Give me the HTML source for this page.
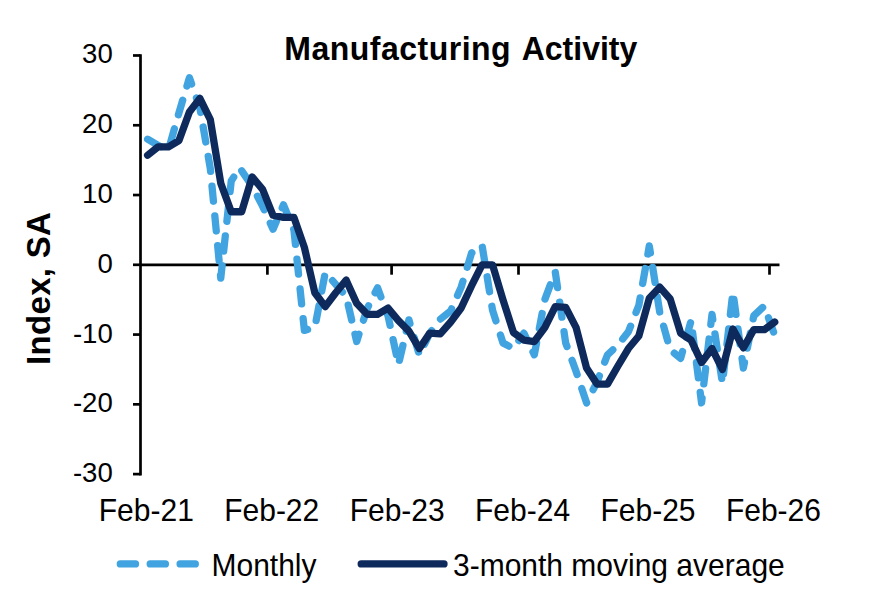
<!DOCTYPE html>
<html><head><meta charset="utf-8"><style>
html,body{margin:0;padding:0;background:#fff;width:874px;height:603px;overflow:hidden}
svg{display:block}
text{font-family:"Liberation Sans",sans-serif;fill:#000}
.title{font-weight:bold;font-size:32px}
.ytitle{font-weight:bold;font-size:33px}
.yl{font-size:27.6px}
.xl{font-size:30px}
</style></head><body>
<svg width="874" height="603" viewBox="0 0 874 603">
<rect width="874" height="603" fill="#fff"/>
<text transform="translate(284.3,59.9) scale(1,1.03)" class="title" letter-spacing="0.5">Manufacturing</text>
<text transform="translate(521.7,59.9) scale(1,1.03)" class="title">Activity</text>
<text transform="translate(50.4,364.9) rotate(-90)" class="ytitle" letter-spacing="0.3">Index, SA</text>
<line x1="133" y1="474.11" x2="140.50" y2="474.11" stroke="#000" stroke-width="2.70"/>
<line x1="133" y1="404.34" x2="140.50" y2="404.34" stroke="#000" stroke-width="2.70"/>
<line x1="133" y1="334.57" x2="140.50" y2="334.57" stroke="#000" stroke-width="2.70"/>
<line x1="133" y1="264.80" x2="140.50" y2="264.80" stroke="#000" stroke-width="2.70"/>
<line x1="133" y1="195.03" x2="140.50" y2="195.03" stroke="#000" stroke-width="2.70"/>
<line x1="133" y1="125.26" x2="140.50" y2="125.26" stroke="#000" stroke-width="2.70"/>
<line x1="133" y1="55.49" x2="140.50" y2="55.49" stroke="#000" stroke-width="2.70"/>
<line x1="140.50" y1="54.14" x2="140.50" y2="475.46" stroke="#000" stroke-width="2.70"/>
<line x1="140.50" y1="264.80" x2="779.5" y2="264.80" stroke="#000" stroke-width="2.70"/>
<line x1="267.40" y1="264.80" x2="267.40" y2="274.7" stroke="#000" stroke-width="2.70"/>
<line x1="391.60" y1="264.80" x2="391.60" y2="274.7" stroke="#000" stroke-width="2.70"/>
<line x1="518.50" y1="264.80" x2="518.50" y2="274.7" stroke="#000" stroke-width="2.70"/>
<line x1="644.00" y1="264.80" x2="644.00" y2="274.7" stroke="#000" stroke-width="2.70"/>
<line x1="769.50" y1="264.80" x2="769.50" y2="274.7" stroke="#000" stroke-width="2.70"/>
<polyline points="147.60,139.21 158.05,145.49 168.50,149.68 178.96,112.70 189.41,77.82 199.86,107.82 210.31,168.52 220.76,278.06 231.22,181.08 239.67,167.82 252.12,185.96 262.57,206.19 273.02,229.22 283.48,204.80 293.93,229.92 304.38,330.38 314.83,327.59 325.28,272.47 335.74,284.34 346.19,296.20 356.64,341.55 367.09,308.76 377.54,287.82 388.00,315.73 398.45,364.57 408.90,319.92 419.35,354.80 429.80,333.17 440.26,319.22 450.71,310.85 461.16,287.13 471.61,252.94 482.06,245.26 492.52,310.15 502.97,342.94 513.42,348.52 523.87,333.17 534.32,354.80 544.78,299.69 555.23,271.78 565.68,342.94 576.13,371.55 586.58,402.94 597.04,382.01 607.49,354.80 617.94,345.04 628.39,331.78 638.84,305.27 649.30,245.96 659.75,312.24 670.20,349.92 680.65,358.29 691.10,320.62 701.56,402.94 712.01,314.34 722.46,383.41 732.91,292.01 743.36,368.06 753.82,315.73 764.27,305.96 774.72,335.27" fill="none" stroke="#41A4E0" stroke-width="7.30" stroke-linejoin="round" stroke-linecap="round" stroke-dasharray="15.2 14.7"/>
<polyline points="147.60,155.26 158.05,146.89 168.50,146.89 178.96,140.61 189.41,112.00 199.86,98.40 210.31,119.68 220.76,183.17 231.22,211.77 241.67,211.77 252.12,176.89 262.57,189.45 273.02,215.26 283.48,217.36 293.93,217.36 304.38,247.36 314.83,292.71 325.28,306.66 335.74,292.71 346.19,280.15 356.64,303.17 367.09,314.34 377.54,314.34 388.00,308.06 398.45,320.62 408.90,331.08 419.35,348.52 429.80,333.17 440.26,333.87 450.71,322.01 461.16,308.06 471.61,285.73 482.06,264.80 492.52,264.80 502.97,299.69 513.42,332.48 523.87,340.15 534.32,341.55 544.78,327.59 555.23,306.66 565.68,307.36 576.13,327.59 586.58,368.06 597.04,384.11 607.49,384.11 617.94,365.97 628.39,348.52 638.84,335.97 649.30,298.29 659.75,287.13 670.20,298.99 680.65,333.17 691.10,340.15 701.56,362.48 712.01,348.52 722.46,369.46 732.91,328.99 743.36,347.83 753.82,329.69 764.27,329.69 774.72,322.01" fill="none" stroke="#0E2A5C" stroke-width="7.30" stroke-linejoin="round" stroke-linecap="round"/>
<text x="112.8" y="482.11" text-anchor="end" class="yl">-30</text>
<text x="112.8" y="412.34" text-anchor="end" class="yl">-20</text>
<text x="112.8" y="342.57" text-anchor="end" class="yl">-10</text>
<text x="112.8" y="272.80" text-anchor="end" class="yl">0</text>
<text x="112.8" y="203.03" text-anchor="end" class="yl">10</text>
<text x="112.8" y="133.26" text-anchor="end" class="yl">20</text>
<text x="112.8" y="63.49" text-anchor="end" class="yl">30</text>
<text transform="translate(146.30,520.9) scale(1,1.050)" text-anchor="middle" class="xl">Feb-21</text>
<text transform="translate(271.72,520.9) scale(1,1.050)" text-anchor="middle" class="xl">Feb-22</text>
<text transform="translate(397.15,520.9) scale(1,1.050)" text-anchor="middle" class="xl">Feb-23</text>
<text transform="translate(522.57,520.9) scale(1,1.050)" text-anchor="middle" class="xl">Feb-24</text>
<text transform="translate(648.00,520.9) scale(1,1.050)" text-anchor="middle" class="xl">Feb-25</text>
<text transform="translate(773.42,520.9) scale(1,1.050)" text-anchor="middle" class="xl">Feb-26</text>
<line x1="120.3" y1="563.9" x2="195.6" y2="563.9" stroke="#41A4E0" stroke-width="7.30" stroke-linecap="round" stroke-dasharray="15.2 14.7"/>
<text transform="translate(211.5,576) scale(1,1.050)" class="xl">Monthly</text>
<line x1="361.2" y1="563.9" x2="444" y2="563.9" stroke="#0E2A5C" stroke-width="7.30" stroke-linecap="round"/>
<text transform="translate(453,575.6) scale(1,1.050)" class="xl">3-month moving average</text>
</svg>
</body></html>
